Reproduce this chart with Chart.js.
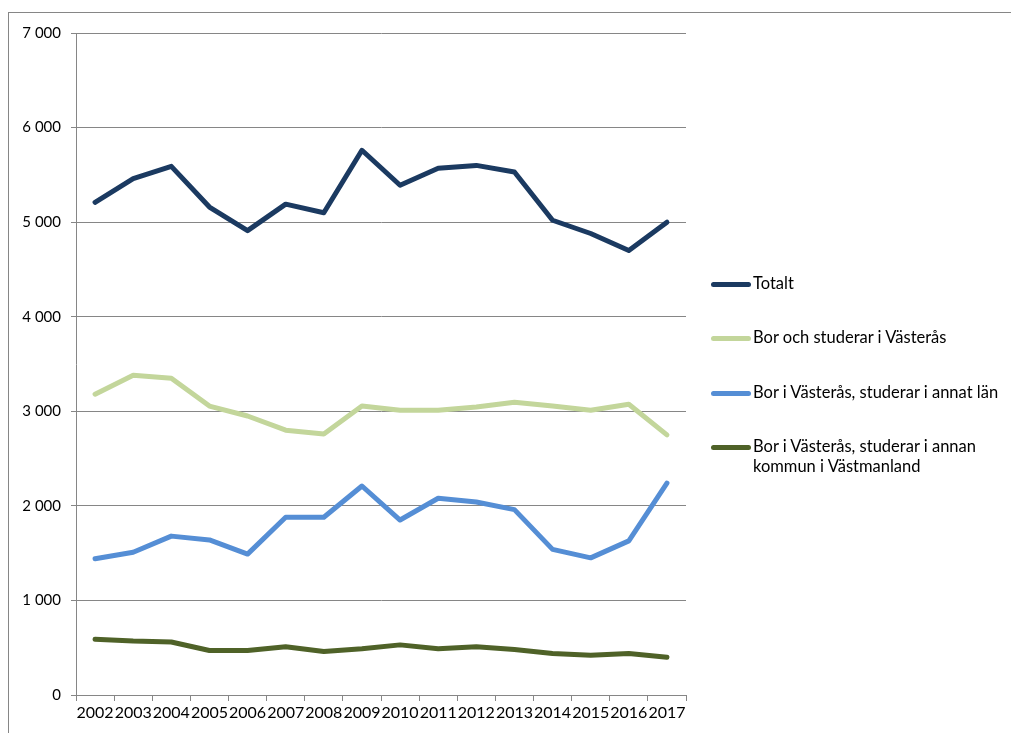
<!DOCTYPE html>
<html>
<head>
<meta charset="utf-8">
<script src="https://cdn.jsdelivr.net/npm/chart.js@4/dist/chart.umd.min.js"></script>
<style>
  body { margin: 0; background: #fff; font-family: Lato, "Open Sans", sans-serif; }
  #wrap { position: relative; width: 1011px; height: 733px; overflow: hidden; }
  #frame { position: absolute; left: 8px; top: 12px; width: 1011px; height: 740px;
           border-left: 1px solid #868686; border-top: 1px solid #868686; }
  #legend { position: absolute; left: 711px; top: 0; font-size: 16.5px; color: #000; }
  .item { position: absolute; left: 0; display: flex; align-items: flex-start; white-space: nowrap; }
  .swatch { width: 40px; height: 5px; border-radius: 3px; margin-top: 9px; margin-right: 2px; }
</style>
</head>
<body>
<div id="wrap">
  <div id="frame"></div>
  <canvas id="chart" width="1011" height="733"></canvas>
  <div id="legend"></div>
</div>
<script>
// years along the x axis
const years = ["2002","2003","2004","2005","2006","2007","2008","2009",
               "2010","2011","2012","2013","2014","2015","2016","2017"];

// values
const totalt =        [5210,5460,5590,5160,4910,5190,5100,5760,5390,5570,5600,5530,5020,4880,4700,5000];
const borOchStuderar =[3180,3380,3350,3055,2950,2800,2760,3055,3010,3010,3045,3095,3055,3010,3075,2750];
const annatLan =      [1440,1510,1680,1640,1490,1880,1880,2210,1850,2080,2040,1960,1540,1450,1630,2240];
const annanKommun =   [590,570,560,470,470,510,460,490,530,490,510,480,440,420,440,400];

const seriesNames = [
  "Totalt",
  "Bor och studerar i Västerås",
  "Bor i Västerås, studerar i annat län",
  "Bor i Västerås, studerar i annan\nkommun i Västmanland"
];
const seriesColors = ["#1B3A61", "#C3D69B", "#558ED5", "#4F6228"];
const seriesData = [totalt, borOchStuderar, annatLan, annanKommun];

// y positions of legend rows
const legendTops = [273, 327, 382, 436];

const fmt = v => String(v).replace(/\B(?=(\d{3})+(?!\d))/g, " ");

new Chart(document.getElementById("chart").getContext("2d"), {
  type: "line",
  data: {
    labels: years,
    datasets: seriesData.map((d, i) => ({
      label: seriesNames[i],
      data: d,
      borderColor: seriesColors[i],
      backgroundColor: seriesColors[i],
      borderWidth: 5,
      pointRadius: 0,
      tension: 0,
      borderCapStyle: "round",
      borderJoinStyle: "round"
    }))
  },
  options: {
    responsive: false,
    animation: false,
    devicePixelRatio: 1,
    layout: { padding: { left: 0, top: 33, right: 325, bottom: 0 } },
    plugins: { legend: { display: false }, tooltip: { enabled: false } },
    scales: {
      x: {
        offset: true,
        grid: { offset: true, drawOnChartArea: false, tickLength: 6, color: "#868686" },
        border: { color: "#868686" },
        ticks: { color: "#000", font: { family: "Lato", size: 16 }, padding: 2, maxRotation: 0, autoSkip: false },
        afterFit: s => { s.height = 38; }
      },
      y: {
        min: 0, max: 7000,
        grid: { color: "#868686", tickLength: 5 },
        border: { color: "#868686" },
        ticks: { stepSize: 1000, color: "#000", font: { family: "Lato", size: 15 }, padding: 10,
                 callback: v => fmt(v) },
        afterFit: s => { s.width = 76; }
      }
    }
  }
});

// html legend on the right
const legend = document.getElementById("legend");
seriesNames.forEach((name, i) => {
  const item = document.createElement("div");
  item.className = "item";
  item.style.top = legendTops[i] + "px";
  item.innerHTML = '<div class="swatch" style="background:' + seriesColors[i] + '"></div><div style="line-height:20px">' +
    name.replace("\n", "<br>") + "</div>";
  legend.appendChild(item);
});
</script>
</body>
</html>
